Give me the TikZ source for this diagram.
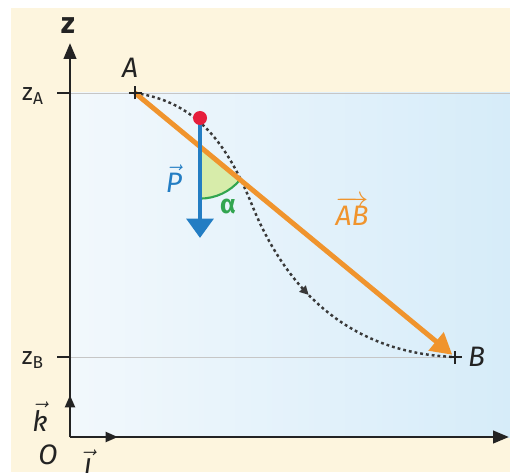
\documentclass[tikz,border=0pt]{standalone}
\usepackage{fontspec}
\setmainfont{Fira Sans}
\usetikzlibrary{%
  arrows.meta,%
  calc,%
  positioning,%
  decorations.markings}

\definecolor{creme}{RGB}{253,245,222}
\definecolor{ciel}{RGB}{214,236,249}
\definecolor{cielpale}{RGB}{242,248,252}
\definecolor{orangeAB}{RGB}{240,148,45}
\definecolor{bleuP}{RGB}{35,125,195}
\definecolor{rougept}{RGB}{230,30,60}
\definecolor{vertalpha}{RGB}{50,165,80}
\definecolor{vertclair}{RGB}{215,236,170}
\definecolor{encre}{RGB}{35,35,35}

\newcommand{\vecteur}[1]{\ensuremath{\vec{\mbox{#1}}}}

\begin{document}
\begin{tikzpicture}[
    axe/.style={encre, line width=1.6pt, -{Triangle[length=9pt,width=7pt]}},
    repere/.style={encre, line width=1.6pt, -{Triangle[length=7pt,width=5.5pt]}},
    lbl/.style={text=encre, font=\fontsize{16}{18}\selectfont\itshape, inner sep=1pt},
    cote/.style={text=encre, font=\fontsize{14}{16}\selectfont, inner sep=1pt},
    croix/.style={encre, line width=1.3pt},
    trajet/.style={encre!90, line width=1.4pt, dash pattern=on 1.6pt off 1.7pt,
      postaction={decorate}, decoration={markings,
        mark=at position 0.63 with {\arrow{Triangle[length=5pt,width=5pt]}}}},
  ]
  \useasboundingbox (-1.4,-0.70) rectangle (8.8,8.74);
  % fond
  \fill[white] (-1.4,-0.70) rectangle (8.8,8.74);
  \fill[creme] (-1.18,-0.70) rectangle (8.8,8.58);
  \shade[left color=cielpale, right color=ciel] (0,0) rectangle (8.8,6.88);
  \draw[gray!45, line width=0.4pt] (0,6.88) -- (8.8,6.88);

  \coordinate (O) at (0,0);
  \coordinate (A) at (1.30,6.88);
  \coordinate (B) at (7.70,1.60);
  \coordinate (M) at (3.64,4.64);
  \coordinate (G) at (2.60,6.38);
  \coordinate (Pfin) at (2.60,3.98);
  \coordinate (S) at (intersection of A--B and G--Pfin);

  \draw[gray!45, line width=0.5pt] (0,1.60) -- (B);

  % angle alpha
  \fill[vertclair] (S) -- ++(-90:1.04) arc[start angle=-90, end angle=-39.5, radius=1.04] -- cycle;
  \draw[vertalpha, line width=1.2pt] ($(S)+(-90:1.04)$) arc[start angle=-90, end angle=-39.5, radius=1.04];

  % trajectoire
  \draw[trajet] (A) to[out=-8,in=112] (M) to[out=-68,in=178] (B);

  % vecteurs
  \draw[orangeAB, line width=2.8pt, shorten >=2pt, -{Triangle[length=12pt,width=13pt]}] (A) -- (B);
  \draw[bleuP, line width=2.8pt, -{Triangle[length=11pt,width=15pt]}] (G) -- (Pfin);
  \fill[rougept] (G) circle (0.14);

  % croix
  \draw[croix] ($(A)+(-0.13,0)$) -- ++(0.26,0) ($(A)+(0,-0.13)$) -- ++(0,0.26);
  \draw[croix] ($(B)+(-0.13,0)$) -- ++(0.26,0) ($(B)+(0,-0.13)$) -- ++(0,0.26);

  % axes
  \draw[axe] (O) -- (8.78,0);
  \draw[axe] (O) -- (0,7.88);
  \draw[repere] (O) -- (0,0.84);
  \draw[repere] (O) -- (0.96,0);
  \draw[croix] (-0.26,6.88) -- (0,6.88);
  \draw[croix] (-0.26,1.60) -- (0,1.60);

  % textes
  \node[cote, font=\fontsize{17}{18}\selectfont\bfseries] (labz) at (-0.04,8.22) {z};
  \node[cote] (labzA) at (-0.74,6.82) {z\textsubscript{A}};
  \node[cote] (labzB) at (-0.74,1.54) {z\textsubscript{B}};
  \node[lbl] (labA) at (1.20,7.38) {A};
  \node[lbl, right=0.22cm of B] (labB) {B};
  \node[lbl] (labO) at (-0.44,-0.36) {O};
  \node[lbl] (labi) at (0.36,-0.50) {\vecteur{\itshape\i}};
  \node[lbl] (labk) at (-0.60,0.40) {\vecteur{\itshape k}};
  \node[lbl, text=bleuP] (labP) at (2.08,5.16) {\vecteur{\itshape P}};
  \node[lbl, text=vertalpha, font=\fontsize{15}{16}\selectfont\bfseries] (labalpha) at (3.16,4.60) {α};
  \node[lbl, text=orangeAB] (labAB) at (5.64,4.52) {\ensuremath{\overrightarrow{\mbox{\itshape AB}}}};
\end{tikzpicture}
\end{document}
